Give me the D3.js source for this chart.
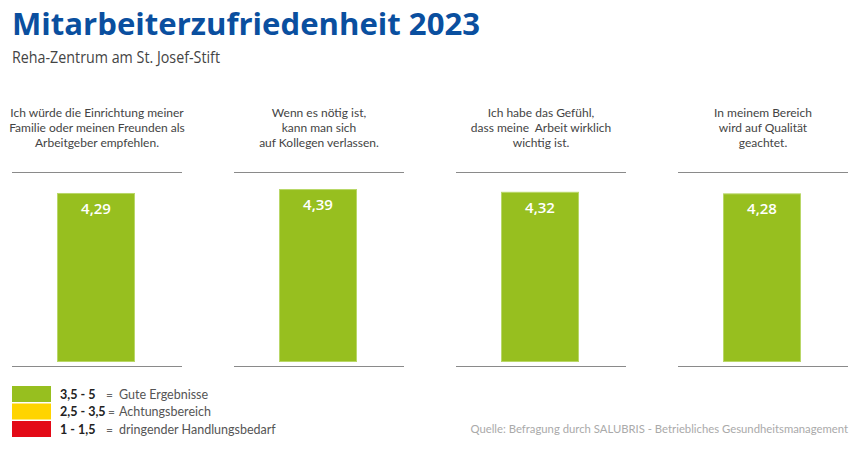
<!DOCTYPE html>
<html>
<head>
<meta charset="utf-8">
<script src="https://cdn.jsdelivr.net/npm/d3@7"></script>
<style>
  html, body { margin: 0; padding: 0; background: #fff; }
  svg { display: block; font-family: "Open Sans", "Noto Sans", sans-serif; }
</style>
</head>
<body>
<svg id="chart" width="860" height="464"></svg>
<script>
const title = "Mitarbeiterzufriedenheit 2023";
const subtitle = "Reha-Zentrum am St. Josef-Stift";
const categories = ["q1", "q2", "q3", "q4"];
const questions = [
  ["Ich würde die Einrichtung meiner", "Familie oder meinen Freunden als", "Arbeitgeber empfehlen."],
  ["Wenn es nötig ist,", "kann man sich", "auf Kollegen verlassen."],
  ["Ich habe das Gefühl,", "dass meine  Arbeit wirklich", "wichtig ist."],
  ["In meinem Bereich", "wird auf Qualität", "geachtet."]
];
const values = [4.29, 4.39, 4.32, 4.28];
const legendRanges = ["3,5 - 5", "2,5 - 3,5", "1 - 1,5"];
const legendLabels = ["Gute Ergebnisse", "Achtungsbereich", "dringender Handlungsbedarf"];
const legendColors = ["#97bf1f", "#ffd400", "#e30a17"];
const source = "Quelle: Befragung durch SALUBRIS - Betriebliches Gesundheitsmanagement";

const svg = d3.select("#chart");
const locale = d3.formatLocale({decimal: ",", thousands: ".", grouping: [3], currency: ["", "€"]});
const fmt = locale.format(".2f");

const x = d3.scaleBand().domain(categories).range([12, 848]).paddingInner(52 / 222).paddingOuter(0);
const y = d3.scaleLinear().domain([0, 5]).range([362, 165]);
const barW = 78, barOff = 45;

// Title
svg.append("text").attr("x", 12).attr("y", 35)
  .attr("font-size", 31).attr("font-weight", 700).attr("fill", "#0a4f9f")
  .attr("textLength", 468).attr("lengthAdjust", "spacingAndGlyphs")
  .text(title);
svg.append("text").attr("x", 12).attr("y", 63)
  .attr("font-size", 15.5).attr("fill", "#444")
  .attr("textLength", 208).attr("lengthAdjust", "spacingAndGlyphs")
  .text(subtitle);

const g = svg.append("g");
const panel = g.selectAll("g.panel").data(categories).join("g").attr("class", "panel");

// question text
panel.each(function(c, i) {
  const t = d3.select(this).append("text")
    .attr("text-anchor", "middle").attr("font-family", "Lato, sans-serif")
    .attr("font-size", 12).attr("fill", "#444").style("white-space", "pre");
  questions[i].forEach((line, k) => {
    t.append("tspan").attr("x", x(c) + x.bandwidth() / 2).attr("y", 117 + k * 15).text(line);
  });
});

// rules
panel.append("line").attr("x1", c => x(c)).attr("x2", c => x(c) + x.bandwidth())
  .attr("y1", 172.5).attr("y2", 172.5).attr("stroke", "#8a8a8a").attr("stroke-width", 1.2);
panel.append("line").attr("x1", c => x(c)).attr("x2", c => x(c) + x.bandwidth())
  .attr("y1", 366.5).attr("y2", 366.5).attr("stroke", "#8a8a8a").attr("stroke-width", 1.2);

// bars
panel.append("rect")
  .attr("x", c => x(c) + barOff + 0.5)
  .attr("y", (c, i) => y(values[i]) + 0.5)
  .attr("width", barW - 1)
  .attr("height", (c, i) => y(0) - y(values[i]) - 1)
  .attr("fill", "#97bf1f").attr("stroke", "#b9d768").attr("stroke-width", 1);

panel.append("text")
  .attr("x", c => x(c) + barOff + barW / 2)
  .attr("y", (c, i) => y(values[i]) + 21)
  .attr("text-anchor", "middle").attr("font-size", 15).attr("font-weight", 600).attr("fill", "#fff")
  .text((c, i) => fmt(values[i]));

// legend
const leg = svg.append("g").attr("font-family", "Lato, sans-serif")
  .selectAll("g").data(legendRanges).join("g")
  .attr("transform", (d, i) => `translate(0, ${386 + i * 17.5})`);
leg.append("rect").attr("x", 12).attr("y", 0).attr("width", 39).attr("height", 16)
  .attr("fill", (d, i) => legendColors[i]);
leg.append("text").attr("x", 60).attr("y", 12.5).attr("font-size", 12.5).attr("font-weight", 700)
  .attr("fill", "#222").text(d => d);
leg.append("text").attr("x", (d, i) => i === 1 ? 108 : 106).attr("y", 12.5).attr("font-size", 12)
  .attr("fill", "#666").text("=");
leg.append("text").attr("x", 119).attr("y", 12.5).attr("font-size", 12.5)
  .attr("fill", "#555").text((d, i) => legendLabels[i]);

// source: fit to target width by font size
const src = svg.append("text").attr("x", 848).attr("y", 433).attr("text-anchor", "end")
  .attr("font-family", "Lato, sans-serif")
  .attr("font-size", 12).attr("fill", "#aaa")
  .text(source);
const w = src.node().getComputedTextLength();
if (w > 0) src.attr("font-size", 12 * 378 / w);
</script>
</body>
</html>
